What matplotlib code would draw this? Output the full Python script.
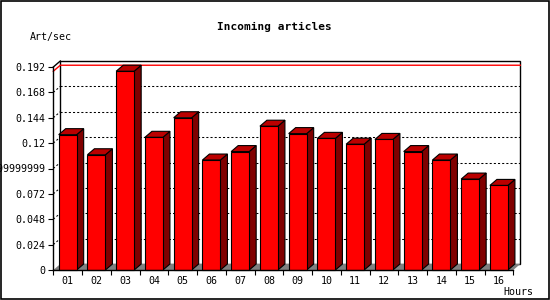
import matplotlib
matplotlib.use("Agg")
import matplotlib.pyplot as plt
from matplotlib.patches import Rectangle, Polygon

# data
hours = ["01", "02", "03", "04", "05", "06", "07", "08",
         "09", "10", "11", "12", "13", "14", "15", "16"]
art_per_sec = [0.128, 0.109, 0.188, 0.1255, 0.144, 0.104, 0.112, 0.136,
               0.129, 0.1245, 0.119, 0.1235, 0.112, 0.104, 0.086, 0.080]
ytick_values = [0, 0.024, 0.048, 0.072, 0.096, 0.12, 0.144, 0.168, 0.192]
ytick_labels = ["0", "0.024", "0.048", "0.072", "0.09999999999999999",
                "0.12", "0.144", "0.168", "0.192"]

plt.rcParams["font.family"] = "DejaVu Sans Mono"

W, H = 550, 300
fig = plt.figure(figsize=(W / 100, H / 100), dpi=100)
fig.patch.set_facecolor("white")

# front plane of the plot box (pixels -> figure fractions)
left, bottom, width, height = 53.3, 30, 460, 203
ax = fig.add_axes([left / W, bottom / H, width / W, height / H])
ax.set_facecolor("none")
n = len(hours)
ymax = ytick_values[-1]
ax.set_xlim(0, n)
ax.set_ylim(0, ymax)

# 3D depth offset, 7px right and 6px up, expressed in data units
DX = 7 / (width / n)
DY = 6 / height * ymax
BW = 0.626

# back wall
ax.add_patch(Rectangle((DX, DY), n, ymax, facecolor="white", edgecolor="black",
                       lw=1, clip_on=False, zorder=1))
ax.plot([0, DX], [ymax, ymax + DY], color="black", lw=1, clip_on=False, zorder=1.5)

# dotted grid on back wall and left wall
for v in ytick_values[1:-1]:
    ax.plot([DX, n + DX], [v + DY, v + DY], color="black", lw=0.75,
            ls=(0, (2, 2)), clip_on=False, zorder=1.5)
    ax.plot([0, DX], [v, v + DY], color="black", lw=0.75,
            ls=(0, (2, 2)), clip_on=False, zorder=1.5)

# floor
ax.add_patch(Polygon([(0, 0), (n, 0), (n + DX, DY), (DX, DY)], closed=True,
                     facecolor="#808080", edgecolor="none", clip_on=False, zorder=2))

# red line at the peak value
peak = max(art_per_sec)
ax.plot([0, DX, n + DX], [peak, peak + DY, peak + DY], color="red", lw=1,
        clip_on=False, zorder=2.2)

# 3D bars
for i, v in enumerate(art_per_sec):
    x0 = i + 0.5 - BW / 2
    x1 = x0 + BW
    ax.add_patch(Polygon([(x1, 0), (x1 + DX, DY), (x1 + DX, v + DY), (x1, v)],
                         closed=True, facecolor="#800000", edgecolor="black",
                         lw=0.8, clip_on=False, zorder=3))
    ax.add_patch(Polygon([(x0, v), (x0 + DX, v + DY), (x1 + DX, v + DY), (x1, v)],
                         closed=True, facecolor="#bb0000", edgecolor="black",
                         lw=0.8, clip_on=False, zorder=3))
    ax.add_patch(Rectangle((x0, 0), BW, v, facecolor="#ff0000", edgecolor="black",
                           lw=0.8, clip_on=False, zorder=3.1))

# axes
for s in ["top", "right"]:
    ax.spines[s].set_visible(False)
for s in ["left", "bottom"]:
    ax.spines[s].set_color("black")
    ax.spines[s].set_linewidth(1)
    ax.spines[s].set_zorder(4)

ax.set_yticks(ytick_values)
ax.set_yticklabels(ytick_labels)
ax.set_xticks(range(n + 1))
ax.set_xticklabels([])
ax.set_xticks([i + 0.5 for i in range(n)], minor=True)
ax.set_xticklabels(hours, minor=True)
ax.tick_params(axis="y", direction="out", length=3.5, width=0.8, pad=2.5,
               labelsize=7.2, colors="black")
ax.tick_params(axis="x", which="major", direction="out", length=3.5, width=0.8)
ax.tick_params(axis="x", which="minor", length=0, pad=4, labelsize=7.2)

fig.text(0.498, 1 - 26.7 / H, "Incoming articles", ha="center", va="center",
         fontsize=8, fontweight="bold")
fig.text(30 / W, 1 - 36.7 / H, "Art/sec", ha="left", va="center", fontsize=7.2)
fig.text(533 / W, 1 - 292 / H, "Hours", ha="right", va="center", fontsize=7.2)

# outer frame
fig.patches.append(Rectangle((0.001, 0.003), 0.997, 0.995, transform=fig.transFigure,
                             fill=False, edgecolor="black", lw=1.2))

fig.savefig("out.png", dpi=100)
